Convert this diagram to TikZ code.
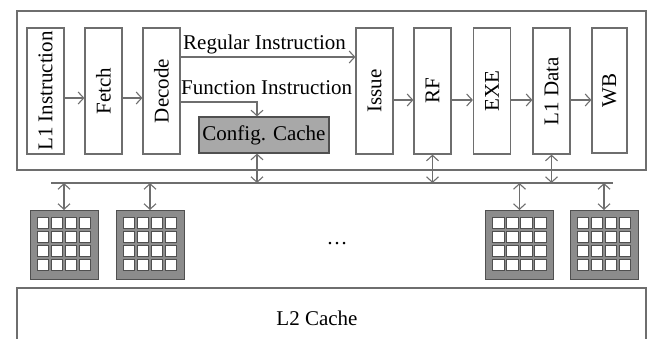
\documentclass[tikz,border=0pt]{standalone}
\usepackage{fontspec}
\setmainfont{Liberation Serif}
\usetikzlibrary{arrows.meta}
\definecolor{linegray}{HTML}{6E6E6E}
\definecolor{cachegray}{HTML}{A8A8A8}
\definecolor{arraygray}{HTML}{8C8C8C}
\definecolor{edgegray}{HTML}{505050}
\tikzset{
  stagebox/.style={draw=linegray, line width=1.2pt, minimum width=37pt, minimum height=126pt, inner sep=0pt},
  flow/.style={draw=linegray, line width=1.1pt, -{Straight Barb[length=5.5pt,width=12pt]}},
  link/.style={draw=linegray, line width=1.1pt, {Straight Barb[length=5.5pt,width=12pt]}-{Straight Barb[length=5.5pt,width=12pt]}},
  lbl/.style={font=\fontsize{21}{25}\selectfont, inner sep=0pt},
  pe array/.pic={
    \fill[arraygray, draw=edgegray, line width=1pt] (-34,-34.5) rectangle (34,34.5);
    \foreach \i in {0,...,3}
      \foreach \j in {0,...,3}
        \filldraw[fill=white, draw=edgegray, line width=0.9pt]
          (-27+14*\i,-27.5+14*\j) rectangle ++(11.5,11.5);
  }
}
\begin{document}
\begin{tikzpicture}[x=1pt,y=-1pt]
\useasboundingbox (0,0) rectangle (652,338);

% core outline
\draw[linegray, line width=1.2pt] (17,11) rectangle (646,170);

% pipeline stages
\node[stagebox] (l1i)   at (45.5,91)  {};
\node[stagebox] (fetch) at (103.5,91) {};
\node[stagebox] (dec)   at (161.5,91) {};
\node[stagebox] (iss)   at (374.5,91) {};
\node[stagebox] (rf)    at (432.5,91) {};
\node[stagebox] (exe)   at (492,91)   {};
\node[stagebox] (l1d)   at (551.5,91) {};
\node[stagebox, minimum width=35pt, minimum height=125pt] (wb) at (609.5,90.5) {};

\node[lbl, rotate=90] at (l1i)   {L1 Instruction};
\node[lbl, rotate=90] at (fetch) {Fetch};
\node[lbl, rotate=90] at (dec)   {Decode};
\node[lbl, rotate=90] at (iss)   {Issue};
\node[lbl, rotate=90] at (rf)    {RF};
\node[lbl, rotate=90] at (exe)   {EXE};
\node[lbl, rotate=90] at (l1d)   {L1 Data};
\node[lbl, rotate=90] at (wb)    {WB};

% configuration cache
\node[draw=edgegray, fill=cachegray, line width=1.2pt, minimum width=130pt, minimum height=36pt, inner sep=0pt] (cfg) at (264,135) {};
\node[lbl] at (cfg) {Config. Cache};

% stage-to-stage flow
\coordinate (row1) at (0,98);
\coordinate (row2) at (0,100);
\path[flow] (l1i.east |- row1) -- (fetch.west |- row1);
\path[flow] (fetch.east |- row1) -- (dec.west |- row1);
\path[flow] (iss.east |- row2) -- (rf.west |- row2);
\path[flow] (rf.east |- row2) -- (exe.west |- row2);
\path[flow] (exe.east |- row2) -- (l1d.west |- row2);
\path[flow] (l1d.east |- row2) -- (wb.west |- row2);

% decode outputs
\coordinate (reg) at (0,57);
\coordinate (fun) at (0,102);
\coordinate (cfgin) at (257,0);
\path[flow] (dec.east |- reg) -- (iss.west |- reg);
\node[lbl, anchor=base west] (regtxt) at (183,49) {Regular Instruction};
\path[flow] (dec.east |- fun) -| (cfg.north -| cfgin);
\node[lbl, anchor=base west] (funtxt) at (181,94) {Function Instruction};

% shared bus
\coordinate (busl) at (51,183);
\coordinate (busr) at (613,183);
\draw[linegray, line width=1.2pt] (busl) -- (busr);

\path[link] (cfg.south -| cfgin) -- (busl -| cfgin);
\path[link] (rf.south) -- (busl -| rf.south);
\path[link] (l1d.south) -- (busl -| l1d.south);

% processing-element arrays
\foreach \name/\x in {pa/64, pb/150, pc/519.5, pd/604}{
  \pic at (\x,244.5) {pe array};
  \coordinate (\name) at (\x,210);
  \path[link] (busl -| \name) -- (\name);
}
\node[lbl] (dots) at (337,244) {\dots};

% second-level cache
\draw[linegray, line width=1.2pt] (17,345) -- (17,288) -- (646,288) -- (646,345);
\node[lbl] (l2) at (317,318) {L2 Cache};
\end{tikzpicture}
\end{document}
